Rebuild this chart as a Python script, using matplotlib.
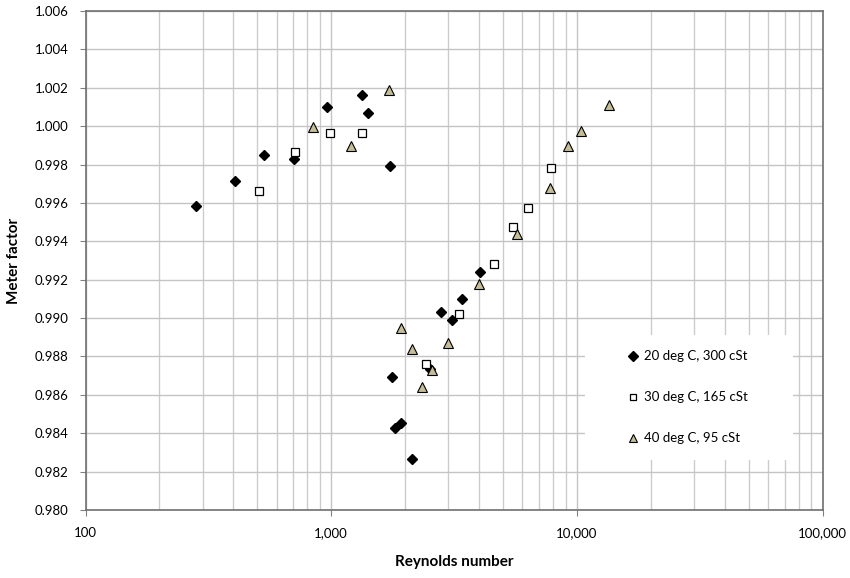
import numpy as np
import matplotlib.pyplot as plt
from matplotlib.ticker import FuncFormatter, LogLocator, MultipleLocator
from matplotlib.patches import Rectangle

plt.rcParams['font.family'] = ['Lato', 'DejaVu Sans']

# 20 deg C, 300 cSt
re_20 = [282, 406, 533, 706, 961, 1335, 1413, 1735, 1766, 1817, 1923, 2133, 2524, 2800, 3100, 3400, 4040]
mf_20 = [0.99584, 0.99715, 0.99850, 0.99829, 1.0010, 1.0016, 1.0007, 0.99793, 0.98693, 0.98427,
         0.98453, 0.98266, 0.98735, 0.9903, 0.9899, 0.9910, 0.9924]

# 30 deg C, 165 cSt
re_30 = [508, 712, 989, 1335, 2432, 3300, 4600, 5496, 6320, 7840]
mf_30 = [0.99662, 0.99866, 0.99965, 0.99965, 0.98761, 0.9902, 0.99282, 0.99475, 0.99574, 0.99782]

# 40 deg C, 95 cSt
re_40 = [843, 1204, 1717, 1920, 2133, 2344, 2571, 2987, 4000, 5700, 7760, 9200, 10390, 13520]
mf_40 = [0.99996, 0.99897, 1.0019, 0.9895, 0.98839, 0.98641, 0.98730, 0.98870, 0.9918, 0.99438,
         0.99678, 0.99897, 0.99975, 1.0011]

labels = ['20 deg C, 300 cSt', '30 deg C, 165 cSt', '40 deg C, 95 cSt']

fig = plt.figure(figsize=(8.5, 5.78), dpi=100)
ax = fig.add_axes([0.1006, 0.1176, 0.8672, 0.8634])

ax.set_xscale('log')
ax.set_xlim(100, 100000)
ax.set_ylim(0.980, 1.006)

ax.xaxis.set_major_locator(LogLocator(base=10))
ax.xaxis.set_minor_locator(LogLocator(base=10, subs=np.arange(2, 10)))
ax.xaxis.set_major_formatter(FuncFormatter(lambda v, p: '{:,.0f}'.format(v)))
ax.xaxis.set_minor_formatter(FuncFormatter(lambda v, p: ''))
ax.yaxis.set_major_locator(MultipleLocator(0.002))
ax.yaxis.set_major_formatter(FuncFormatter(lambda v, p: '%.3f' % v))

ax.grid(True, which='major', color='#c4c4c4', lw=1.0)
ax.grid(True, which='minor', axis='x', color='#cccccc', lw=1.0)
ax.tick_params(which='major', length=4, color='#808080', labelsize=9.5, pad=8)
ax.tick_params(which='minor', length=0)
for s in ax.spines.values():
    s.set_color('#707070')
    s.set_linewidth(1.2)

# white legend area
ax.add_patch(Rectangle((0.678, 0.100), 0.282, 0.251, transform=ax.transAxes,
                       facecolor='white', edgecolor='none', zorder=2))

ax.plot(re_20, mf_20, 'D', ms=5.2, color='black', mec='black', ls='none', zorder=3, label=labels[0])
ax.plot(re_30, mf_30, 's', ms=5.3, mfc='white', mec='black', mew=0.9, ls='none', zorder=3, label=labels[1])
ax.plot(re_40, mf_40, '^', ms=6.5, mfc='#c4bd97', mec='black', mew=0.8, ls='none', zorder=3, label=labels[2])

leg = ax.legend(loc='center', bbox_to_anchor=(0.818, 0.226), frameon=False, fontsize=9.5,
                labelspacing=2.2, handlelength=0.6, handletextpad=0.5, markerscale=0.9)

ax.set_xlabel('Reynolds number', fontsize=11, fontweight='bold', labelpad=12)
ax.set_ylabel('Meter factor', fontsize=11, fontweight='bold', labelpad=10)

fig.savefig('out.png', dpi=100)
